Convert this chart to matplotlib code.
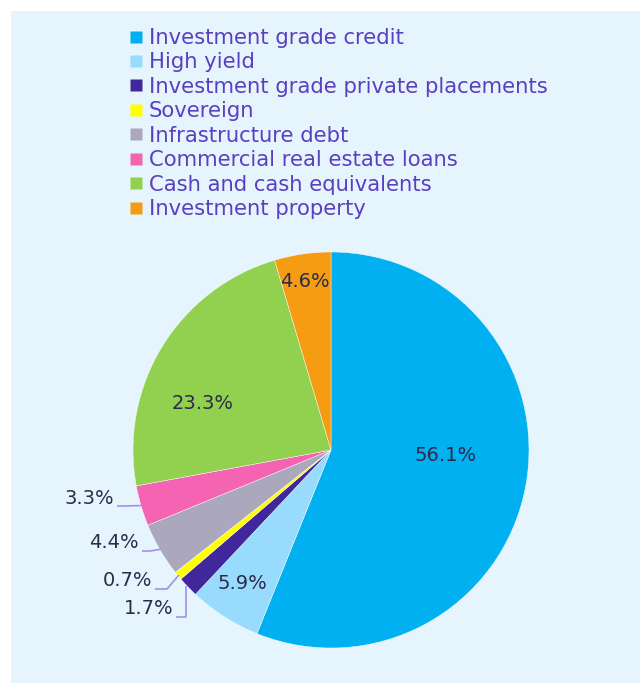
import numpy as np
import matplotlib.pyplot as plt
from matplotlib.patches import Rectangle
from matplotlib.lines import Line2D

# data
categories = ["Investment grade credit", "High yield", "Investment grade private placements",
              "Sovereign", "Infrastructure debt", "Commercial real estate loans",
              "Cash and cash equivalents", "Investment property"]
shares = [56.1, 5.9, 1.7, 0.7, 4.4, 3.3, 23.3, 4.6]
colors = ["#00b0f0", "#99dbfd", "#40289c", "#ffff00", "#aba7bd", "#f564b2", "#92d050", "#f59c13"]

W, H = 640, 683
R = 198.0            # pie radius in px
CX, CY = 331, 450    # pie centre in px (from top)

fig = plt.figure(figsize=(W / 100, H / 100), dpi=100)
fig.patch.set_facecolor("white")

ax = fig.add_axes([0, 0, 1, 1])
ax.add_patch(Rectangle((11 / W, 0), 1 - 11 / W, 1 - 11 / H, transform=fig.transFigure,
                       facecolor="#e6f4fd", edgecolor="none", zorder=0))


def px(x, y):
    # pixel position (from top-left) -> data coords
    return (x - CX) / R, (CY - y) / R


wedges, _ = ax.pie(shares, colors=colors, startangle=90, counterclock=False, radius=1,
                   wedgeprops=dict(edgecolor="white", linewidth=0.3, zorder=2))
ax.set_aspect("auto")
ax.set_xlim(-CX / R, (W - CX) / R)
ax.set_ylim(-(H - CY) / R, CY / R)
ax.axis("off")

txt = "#2b2b4b"
lead = "#a590e6"
fs = 14

# inside labels: (index, radius, angle tweak in degrees)
inside = [(0, 0.58, 8), (1, 0.81, -1), (6, 0.69, 11.5), (7, 0.86, 0.5)]
for i, r, da in inside:
    w = wedges[i]
    a = np.deg2rad((w.theta1 + w.theta2) / 2 + da)
    ax.text(r * np.cos(a), r * np.sin(a), f"{shares[i]}%", ha="center", va="center",
            fontsize=fs, color=txt, zorder=3)

# outside labels with leader lines: (index, text end px, elbow px)
outside = [(5, (117, 506), (124, 506)),
           (4, (142, 551), (150, 551)),
           (3, (155, 589), (167, 589)),
           (2, (176, 617), (186, 617))]
for i, tend, elbow in outside:
    w = wedges[i]
    a = np.deg2rad((w.theta1 + w.theta2) / 2)
    ex, ey = 0.995 * np.cos(a), 0.995 * np.sin(a)
    if i == 2:
        pts = [px(*tend), px(*elbow), (px(*elbow)[0], ey)]
    else:
        pts = [px(*tend), px(*elbow), (ex, ey)]
    xs, ys = zip(*pts)
    ax.plot(xs, ys, color=lead, lw=1.2, solid_capstyle="butt", zorder=3)
    tx, ty = px(tend[0] - 3, tend[1] - 8)
    ax.text(tx, ty, f"{shares[i]}%", ha="right", va="center", fontsize=fs, color=txt, zorder=3)

handles = [Line2D([], [], marker="s", linestyle="none", markersize=9, markerfacecolor=c,
                  markeredgecolor="none") for c in colors]
leg = fig.legend(handles, categories, loc="upper left", bbox_to_anchor=(130 / W, 1 - 28 / H),
                 frameon=False, handlelength=0.6, handletextpad=0.3, labelspacing=0.21,
                 fontsize=15.2, borderaxespad=0, borderpad=0)
for t in leg.get_texts():
    t.set_color("#5a3fc0")

fig.savefig("out.png", dpi=100, facecolor="white")
